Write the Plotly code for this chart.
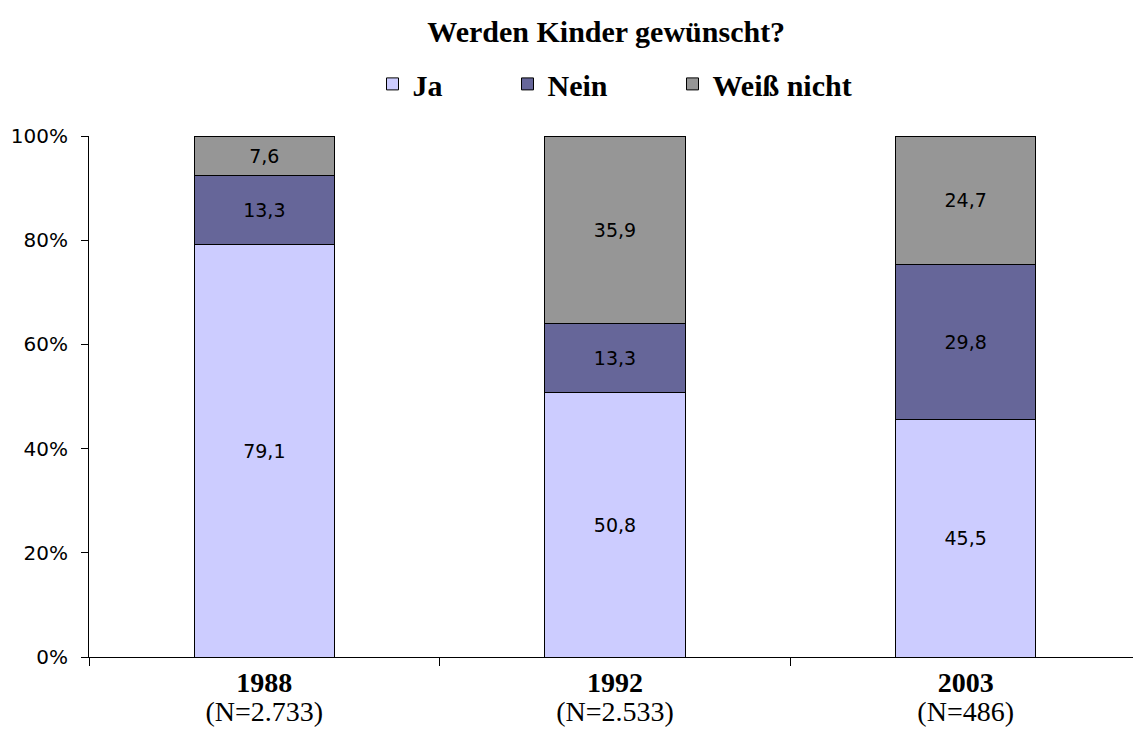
import plotly.graph_objects as go

# Data
years = ["1988", "1992", "2003"]
sample_sizes = ["N=2.733", "N=2.533", "N=486"]
ja = [79.1, 50.8, 45.5]
nein = [13.3, 13.3, 29.8]
weiss_nicht = [7.6, 35.9, 24.7]

series = [
    ("Ja", ja, "#CCCCFF"),
    ("Nein", nein, "#666699"),
    ("Weiß nicht", weiss_nicht, "#969696"),
]

# big glyphs but tight line spacing: base font small, spans enlarged
categories = [
    f"<span style='font-size:28px'><b>{y}</b></span><br><span style='font-size:28px'>({n})</span>"
    for y, n in zip(years, sample_sizes)
]

SERIF = "Liberation Serif, Times New Roman, serif"
SANS = "DejaVu Sans, Verdana, sans-serif"
PAD = "\u00a0" * 8  # extra room between legend entries

fig = go.Figure()
for i, (name, values, color) in enumerate(series):
    label = f"<b>{name}</b>" + (PAD if i < len(series) - 1 else "")
    fig.add_trace(go.Bar(
        x=categories, y=values, name=label,
        marker=dict(color=color, line=dict(color="black", width=1)),
        text=[f"{v:.1f}".replace(".", ",") for v in values],
        textposition="inside", insidetextanchor="middle",
        textfont=dict(family=SANS, size=19, color="black"),
    ))

# page has an 8px body margin, so the figure is 8px smaller than the window
fig.update_layout(
    barmode="stack", bargap=0.6,
    width=1133, height=721,
    paper_bgcolor="white", plot_bgcolor="white",
    margin=dict(l=81, r=0, t=128, b=72, autoexpand=False),
    title=dict(text="<b>Werden Kinder gewünscht?</b>", x=0.528, xanchor="center",
               y=0.968, yanchor="middle", font=dict(family=SERIF, size=30, color="black")),
    legend=dict(orientation="h", x=0.5, xanchor="center", y=1.1, yanchor="middle",
                font=dict(family=SERIF, size=30, color="black"), traceorder="normal",
                itemwidth=30),
    xaxis=dict(showline=True, linecolor="black", linewidth=1, ticks="outside",
               tickson="boundaries", ticklen=8, tickcolor="black", automargin=False,
               ticklabelstandoff=8,
               tickfont=dict(family=SERIF, size=22, color="black")),
    yaxis=dict(range=[0, 100], dtick=20, ticksuffix="%", showgrid=False, zeroline=False,
               showline=True, linecolor="black", linewidth=1, ticks="outside",
               ticklen=7, tickcolor="black", automargin=False, ticklabelstandoff=9,
               tickfont=dict(family=SANS, size=20, color="black")),
    uniformtext=dict(mode="show", minsize=10),
)

fig.write_html("out.html")
